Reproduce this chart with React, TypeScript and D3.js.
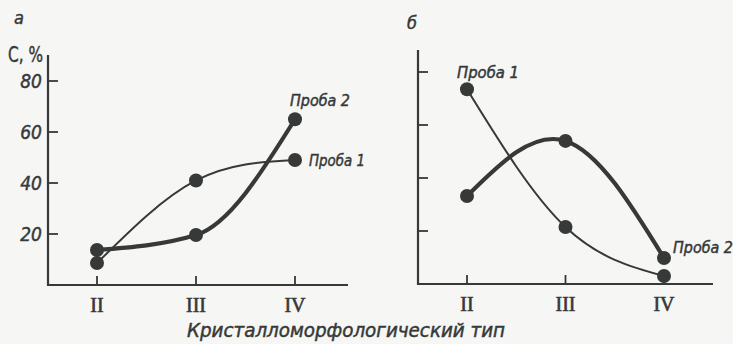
import React from "react";
import * as d3 from "d3";

// Crystal-morphological types along the x axis
const types = ["II", "III", "IV"];

// Panel а: content C, %
const leftSample1 = [8.6, 41, 49];
const leftSample2 = [13.7, 19.6, 65];
const leftTicks = [20, 40, 60, 80];

// Panel б: relative values (unlabelled axis)
const rightSample1 = [73.5, 21.5, 3];
const rightSample2 = [33.2, 54, 9.8];
const rightTicks = [20, 40, 60, 80];

const sampleNames = ["Проба 1", "Проба 2"];

const INK = "#363938";
const LABEL_FONT = "'DejaVu Sans Condensed', 'DejaVu Sans', sans-serif";

type PanelProps = {
  x0: number;
  xRange: [number, number];
  yRange: [number, number];
  axisTop: number;
  axisRight: number;
  s1: number[];
  s2: number[];
  curve2: d3.CurveFactory;
  ticks: number[];
  showTickLabels: boolean;
  letter: string;
  letterPos: [number, number];
  label1: [number, number, number];
  label2: [number, number, number];
};

const textInk = { fill: INK, stroke: INK, strokeWidth: 0.45 };

function Panel(p: PanelProps) {
  const x = d3.scalePoint<string>().domain(types).range(p.xRange);
  const y = d3.scaleLinear().domain([0, 80]).range(p.yRange);
  const base = y(0);
  const makeLine = (curve: d3.CurveFactory) =>
    d3
      .line<number>()
      .x((_, i) => x(types[i]) as number)
      .y((d) => y(d))
      .curve(curve);

  return (
    <g>
      {/* axes */}
      <line x1={p.x0} x2={p.x0} y1={p.axisTop} y2={base + 1} stroke={INK} strokeWidth={2.2} />
      <line x1={p.x0 - 1} x2={p.axisRight} y1={base} y2={base} stroke={INK} strokeWidth={2.2} />
      {p.ticks.map((t) => (
        <g key={t}>
          <line x1={p.x0} x2={p.x0 + 10} y1={y(t)} y2={y(t)} stroke={INK} strokeWidth={1.8} />
          {p.showTickLabels && (
            <text
              x={p.x0 - 6}
              y={y(t) + 7}
              textAnchor="end"
              fontFamily={LABEL_FONT}
              fontStyle="italic"
              fontSize={19}
              {...textInk}
            >
              {t}
            </text>
          )}
        </g>
      ))}
      {types.map((c) => (
        <g key={c}>
          <line x1={x(c)} x2={x(c)} y1={base} y2={base - 9} stroke={INK} strokeWidth={1.8} />
          <text
            x={x(c)}
            y={base + 27}
            textAnchor="middle"
            fontFamily="'Liberation Serif', serif"
            fontSize={20}
            fill={INK}
            stroke={INK}
            strokeWidth={0.6}
          >
            {c}
          </text>
        </g>
      ))}
      {/* curves */}
      <path d={makeLine(d3.curveNatural)(p.s1) ?? ""} fill="none" stroke={INK} strokeWidth={2} />
      <path d={makeLine(p.curve2)(p.s2) ?? ""} fill="none" stroke={INK} strokeWidth={4.2} />
      {[p.s1, p.s2].map((s, k) =>
        s.map((v, i) => (
          <circle key={`${k}-${i}`} cx={x(types[i])} cy={y(v)} r={7} fill={INK} />
        ))
      )}
      {/* series labels */}
      <text
        x={p.label1[0]}
        y={p.label1[1]}
        textLength={p.label1[2]}
        lengthAdjust="spacingAndGlyphs"
        fontFamily={LABEL_FONT}
        fontStyle="italic"
        fontSize={16}
        {...textInk}
      >
        {sampleNames[0]}
      </text>
      <text
        x={p.label2[0]}
        y={p.label2[1]}
        textLength={p.label2[2]}
        lengthAdjust="spacingAndGlyphs"
        fontFamily={LABEL_FONT}
        fontStyle="italic"
        fontSize={16}
        {...textInk}
      >
        {sampleNames[1]}
      </text>
      <text
        x={p.letterPos[0]}
        y={p.letterPos[1]}
        fontFamily={LABEL_FONT}
        fontStyle="italic"
        fontSize={18}
        {...textInk}
      >
        {p.letter}
      </text>
    </g>
  );
}

export default function App() {
  return (
    <svg
      width={733}
      height={344}
      style={{ position: "fixed", left: 0, top: 0, background: "#f6f6f5" }}
    >
      <Panel
        x0={48}
        xRange={[97, 295]}
        yRange={[285, 81]}
        axisTop={55}
        axisRight={348}
        s1={leftSample1}
        s2={leftSample2}
        curve2={d3.curveMonotoneX}
        ticks={leftTicks}
        showTickLabels={true}
        letter="а"
        letterPos={[14, 24]}
        label1={[309, 166, 56]}
        label2={[290, 106, 60]}
      />
      <Panel
        x0={418}
        xRange={[467, 664]}
        yRange={[284, 72]}
        axisTop={50}
        axisRight={713}
        s1={rightSample1}
        s2={rightSample2}
        curve2={d3.curveNatural}
        ticks={rightTicks}
        showTickLabels={false}
        letter="б"
        letterPos={[407, 29]}
        label1={[457, 78, 62]}
        label2={[673, 253, 60]}
      />
      <text
        x={8}
        y={62}
        textLength={35}
        lengthAdjust="spacingAndGlyphs"
        fontFamily={LABEL_FONT}
        fontSize={22}
        {...textInk}
      >
        С, %
      </text>
      <text
        x={187}
        y={337}
        textLength={318}
        lengthAdjust="spacingAndGlyphs"
        fontFamily={LABEL_FONT}
        fontStyle="italic"
        fontSize={19}
        {...textInk}
      >
        Кристалломорфологический тип
      </text>
    </svg>
  );
}
